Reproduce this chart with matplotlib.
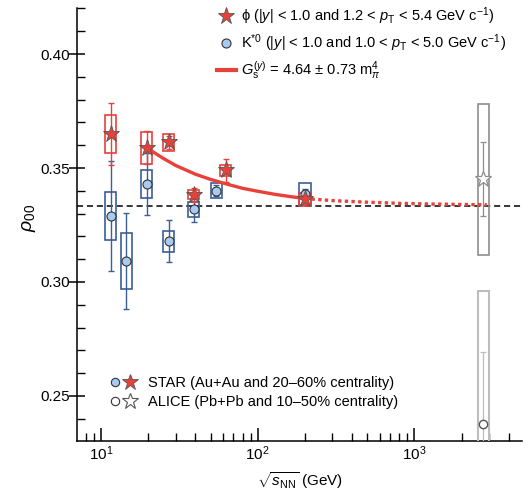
import matplotlib
matplotlib.use("Agg")
import matplotlib.pyplot as plt
from matplotlib.patches import Rectangle
from matplotlib.legend_handler import HandlerTuple
from matplotlib.lines import Line2D

plt.rcParams['font.family'] = ['Liberation Sans', 'DejaVu Sans']
plt.rcParams['mathtext.fontset'] = 'custom'
plt.rcParams['mathtext.rm'] = 'Liberation Sans'
plt.rcParams['mathtext.it'] = 'Liberation Sans:italic'
plt.rcParams['mathtext.bf'] = 'Liberation Sans:bold'

# ---- data ----
kstar_x = [11.5, 14.5, 19.6, 27, 39, 54.4, 200]
kstar_y = [0.3289, 0.3092, 0.3430, 0.3179, 0.3320, 0.3401, 0.3385]
kstar_stat = [0.0241, 0.0209, 0.0137, 0.0091, 0.0059, 0.0025, 0.0025]
kstar_sys = [0.0107, 0.0125, 0.0061, 0.0046, 0.0033, 0.0034, 0.0048]

phi_x = [11.5, 19.6, 27, 39, 62.4, 200]
phi_y = [0.3650, 0.3589, 0.3612, 0.3382, 0.3490, 0.3363]
phi_stat = [0.0135, 0.0073, 0.0028, 0.0030, 0.0050, 0.0020]
phi_sys = [0.0083, 0.0070, 0.0039, 0.0020, 0.0023, 0.0029]

alice_x = [2760]
alice_phi_y = [0.3450]
alice_phi_stat = [0.0162]
alice_phi_sys = [0.0333]
alice_k_y = [0.2379]
alice_k_stat = [0.0314]
alice_k_sys = [0.0580]

fit_x = [19.6, 25, 30, 40, 50, 62.4, 80, 100, 130, 160, 200]
fit_y = [0.3588, 0.3542, 0.3511, 0.3473, 0.3450, 0.3431, 0.3411, 0.3398, 0.3384, 0.3375, 0.3366]
ext_x = [200, 300, 500, 800, 1300, 2000, 2900]
ext_y = [0.3366, 0.3357, 0.3350, 0.3345, 0.3342, 0.3340, 0.3339]

xticks = [10, 100, 1000]
xticklabels = ['$10^1$', '$10^2$', '$10^3$']
yticks = [0.25, 0.30, 0.35, 0.40]
yticklabels = ['0.25', '0.30', '0.35', '0.40']

# ---- style ----
RED = '#e8413a'
BLUE = '#3b5f95'
CFILL = '#a9cbf2'
GRAY = '#8e8e8e'
LGRAY = '#bdbdbd'
half = 10 ** 0.036

fig = plt.figure(figsize=(5.29, 4.95), dpi=100)
ax = fig.add_axes([77.3 / 529, 1 - 441.3 / 495, (522 - 77.3) / 529, (441.3 - 8) / 495])
ax.set_xscale('log')
ax.set_xlim(7.06, 4860)
ax.set_ylim(0.2301, 0.4202)


def boxes(xs, ys, sy, color, lw=1.2):
    for x, y, s in zip(xs, ys, sy):
        ax.add_patch(Rectangle((x / half, y - s), x * half - x / half, 2 * s,
                               fill=False, edgecolor=color, linewidth=lw, zorder=3))


ax.axhline(1 / 3, color='black', lw=1.1, ls=(0, (4, 2.5)), zorder=2)

# ALICE
boxes(alice_x, alice_phi_y, alice_phi_sys, GRAY, 1.2)
boxes(alice_x, alice_k_y, alice_k_sys, LGRAY, 1.5)
ax.errorbar(alice_x, alice_phi_y, yerr=alice_phi_stat, fmt='none', ecolor=GRAY,
            elinewidth=0.9, capsize=2.5, capthick=0.9, zorder=3)
ax.errorbar(alice_x, alice_k_y, yerr=alice_k_stat, fmt='none', ecolor=LGRAY,
            elinewidth=0.9, capsize=2.5, capthick=0.9, zorder=3)
ax.plot(alice_x, alice_phi_y, ls='none', marker='*', ms=12, mfc='white', mec=GRAY, mew=0.9, zorder=4)
ax.plot(alice_x, alice_k_y, ls='none', marker='o', ms=6, mfc='white', mec='#555555', mew=1.0, zorder=4)

# STAR K*0
boxes(kstar_x, kstar_y, kstar_sys, BLUE)
ax.errorbar(kstar_x, kstar_y, yerr=kstar_stat, fmt='none', ecolor=BLUE,
            elinewidth=1.0, capsize=2.5, capthick=1.0, zorder=3)
ax.plot(kstar_x, kstar_y, ls='none', marker='o', ms=6.5, mfc=CFILL, mec='#333333', mew=0.8, zorder=4)

# fit curve
ax.plot(fit_x, fit_y, color=RED, lw=2.4, zorder=5, solid_capstyle='round')
ax.plot(ext_x, ext_y, color=RED, lw=2.4, ls=(0, (1.0, 1.0)), zorder=5)

# STAR phi
boxes(phi_x, phi_y, phi_sys, RED)
ax.errorbar(phi_x, phi_y, yerr=phi_stat, fmt='none', ecolor=RED,
            elinewidth=1.0, capsize=2.5, capthick=1.0, zorder=6)
ax.plot(phi_x, phi_y, ls='none', marker='*', ms=12.5, mfc=RED, mec='#555555', mew=0.6, zorder=7)

# axes styling
for s in ['top', 'right']:
    ax.spines[s].set_visible(False)
for s in ['left', 'bottom']:
    ax.spines[s].set_linewidth(1.1)

ax.set_xticks(xticks)
ax.set_xticklabels(xticklabels)
ax.set_yticks(yticks)
ax.set_yticklabels(yticklabels)
ax.set_yticks([0.24, 0.26, 0.27, 0.28, 0.29, 0.31, 0.32, 0.33, 0.34, 0.36, 0.37, 0.38,
               0.39, 0.41, 0.42], minor=True)
ax.tick_params(axis='y', which='major', direction='inout', length=12, width=1.1,
               labelsize=11, pad=-1.0)
ax.tick_params(axis='y', which='minor', direction='in', length=5.8, width=1.0)
ax.tick_params(axis='x', which='major', direction='in', length=9.5, width=1.1,
               labelsize=11, pad=2.5)
ax.tick_params(axis='x', which='minor', direction='in', length=5.8, width=1.0)
ax.xaxis.set_minor_formatter(matplotlib.ticker.NullFormatter())

ax.set_xlabel(r'$\sqrt{s_{\rm NN}}$ (GeV)', fontsize=11, labelpad=5)
ax.set_ylabel(r'$\rho_{00}$', fontsize=14)
ax.yaxis.set_label_coords(-0.089, 0.515)

# top legend
h1 = Line2D([], [], ls='none', marker='*', ms=12.5, mfc=RED, mec='#555555', mew=0.6)
h2 = Line2D([], [], ls='none', marker='o', ms=6.5, mfc=CFILL, mec='#333333', mew=0.8)
h3 = Line2D([], [], color=RED, lw=3)
leg1 = ax.legend([h1, h2, h3],
                 ['ϕ (|$y$| < 1.0 and 1.2 < $p_{\\rm T}$ < 5.4 GeV c$^{-1}$)',
                  'K$^{*0}$ (|$y$| < 1.0 and 1.0 < $p_{\\rm T}$ < 5.0 GeV c$^{-1}$)',
                  '$G_{\\rm s}^{(y)}$ = 4.64 ± 0.73 m$_{\\pi}^{4}$'],
                 loc='upper left', bbox_to_anchor=(0.30, 1.02), frameon=False,
                 fontsize=10.5, handlelength=1.3, handletextpad=0.4, labelspacing=0.38,
                 borderaxespad=0)
ax.add_artist(leg1)

# bottom legend
s1c = Line2D([], [], ls='none', marker='o', ms=6, mfc=CFILL, mec='#333333', mew=0.8)
s1s = Line2D([], [], ls='none', marker='*', ms=12, mfc=RED, mec='#555555', mew=0.6)
s2c = Line2D([], [], ls='none', marker='o', ms=6, mfc='white', mec='#333333', mew=0.8)
s2s = Line2D([], [], ls='none', marker='*', ms=12, mfc='white', mec='#555555', mew=0.8)
leg2 = ax.legend([(s1c, s1s), (s2c, s2s)],
                 ['STAR (Au+Au and 20–60% centrality)', 'ALICE (Pb+Pb and 10–50% centrality)'],
                 handler_map={tuple: HandlerTuple(ndivide=None, pad=0.1)},
                 loc='lower left', bbox_to_anchor=(0.055, 0.06), frameon=False,
                 fontsize=10.5, handlelength=2.0, handletextpad=0.75, labelspacing=0.35,
                 borderaxespad=0)

fig.savefig('out.png', dpi=100)
